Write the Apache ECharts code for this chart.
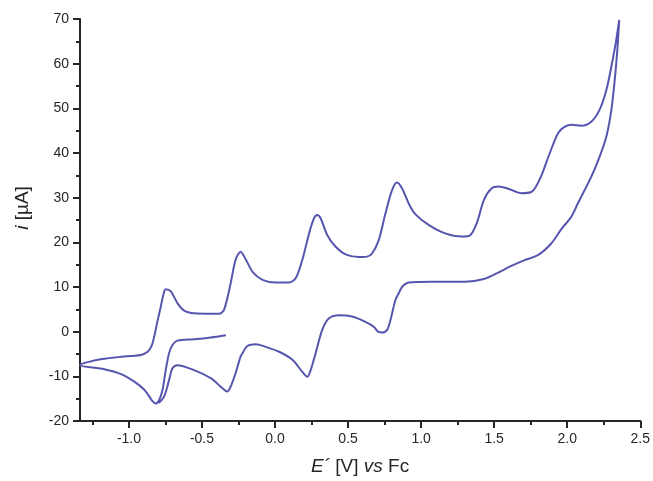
<!DOCTYPE html>
<html><head><meta charset="utf-8">
<script src="https://cdn.jsdelivr.net/npm/echarts@6/dist/echarts.min.js"></script>
<style>html,body{margin:0;padding:0;background:#fff}#c{width:653px;height:481px}</style>
</head><body><div id="c"></div>
<script>
// Axis tick values
const xMajorTicks = [-1.0,-0.5,0.0,0.5,1.0,1.5,2.0,2.5];
const xMinorTicks = [-1.25,-0.75,-0.25,0.25,0.75,1.25,1.75,2.25];
const yTicks = [-20,-10,0,10,20,30,40,50,60,70];
// Initial scan: from rest potential towards negative potentials
const startE = [-0.336,-0.44,-0.554,-0.668,-0.702,-0.725,-0.748,-0.770,-0.793,-0.816,-0.840,-0.861,-0.895,-0.963,-1.054,-1.168,-1.335];
const startI = [-0.8,-1.3,-1.7,-2.0,-3.0,-4.8,-8.6,-13.0,-15.3,-16.1,-15.5,-14.5,-13.0,-11.2,-9.5,-8.4,-7.5];
// Anodic (forward) scan to the switching potential
const anodicE = [-1.213,-1.077,-0.918,-0.872,-0.845,-0.827,-0.805,-0.782,-0.765,-0.748,-0.713,-0.668,-0.622,-0.554,-0.440,-0.384,-0.349,-0.304,-0.270,-0.236,-0.199,-0.154,-0.086,0.005,0.096,0.142,0.187,0.233,0.267,0.289,0.312,0.358,0.415,0.483,0.574,0.630,0.664,0.710,0.756,0.801,0.835,0.869,0.915,0.960,1.051,1.165,1.278,1.336,1.381,1.430,1.483,1.529,1.597,1.688,1.750,1.779,1.824,1.881,1.938,1.984,2.029,2.097,2.165,2.222,2.268,2.302,2.332,2.356];
const anodicI = [-6.3,-5.7,-5.2,-4.5,-3.2,-1.1,2.3,5.6,8.2,9.5,9.0,6.4,4.7,4.1,4.0,4.0,4.9,10.8,16.1,17.9,16.1,13.4,11.6,11.0,11.0,12.0,16.1,22.0,25.4,26.1,25.4,21.6,19.0,17.3,16.7,16.8,17.5,20.5,26.5,31.7,33.4,32.1,28.7,26.3,23.9,22.0,21.3,21.6,24.3,29.5,32.1,32.5,32.0,31.0,31.2,32.1,35.0,40.0,44.5,45.9,46.3,46.1,47.0,49.7,54.1,59.3,64.6,69.8];
// Cathodic (reverse) scan back to negative potentials
const cathodicE = [2.343,2.325,2.302,2.268,2.222,2.165,2.074,2.029,1.961,1.892,1.802,1.700,1.610,1.520,1.430,1.302,1.074,0.915,0.869,0.847,0.824,0.790,0.767,0.733,0.705,0.676,0.619,0.528,0.437,0.369,0.323,0.278,0.244,0.221,0.187,0.119,0.028,-0.063,-0.131,-0.190,-0.222,-0.236,-0.270,-0.304,-0.327,-0.372,-0.440,-0.554,-0.668,-0.702,-0.725,-0.759,-0.795];
const cathodicI = [63.1,56.3,49.6,43.7,39.2,34.7,28.8,25.8,23.0,19.8,17.2,15.9,14.6,13.1,11.8,11.2,11.2,11.0,10.0,8.6,7.1,2.6,0.4,-0.2,0.0,1.1,2.2,3.4,3.7,3.0,0.4,-4.8,-8.6,-10.1,-9.0,-6.3,-4.5,-3.4,-2.8,-3.2,-4.8,-5.6,-9.3,-12.3,-13.4,-12.3,-10.4,-8.6,-7.5,-8.2,-10.8,-14.5,-16.0];

const E = startE.concat(anodicE, cathodicE);
const I = startI.concat(anodicI, cathodicI);
const data = E.map((e, k) => [e, I[k]]);

const FONT = 'Liberation Sans, Arial, sans-serif';
const AX = '#262626';
const chart = echarts.init(document.getElementById('c'), null, {renderer: 'canvas'});
chart.setOption({
  animation: false,
  backgroundColor: '#fff',
  grid: {left: 80, right: 11, top: 19, bottom: 60},
  xAxis: [{
    type: 'value', min: -1.335, max: 2.5,
    axisLine: {show: true, onZero: false, lineStyle: {color: AX, width: 2}},
    axisTick: {show: true, inside: false, length: 7, customValues: xMajorTicks, lineStyle: {color: AX, width: 2}},
    axisLabel: {margin: 11, fontSize: 14, color: AX, fontFamily: FONT, customValues: xMajorTicks,
      formatter: v => v.toFixed(1)},
    splitLine: {show: false},
    name: '{it|E´} [V] {it|vs} Fc', nameLocation: 'middle', nameGap: 36,
    nameTextStyle: {fontSize: 19, color: AX, fontFamily: FONT,
      rich: {it: {fontStyle: 'italic', fontSize: 19, color: AX, fontFamily: FONT}}}
  }, {
    type: 'value', min: -1.335, max: 2.5, position: 'bottom',
    axisLine: {show: false, onZero: false},
    axisTick: {show: true, inside: false, length: 4, customValues: xMinorTicks, lineStyle: {color: AX, width: 2}},
    axisLabel: {show: false}, splitLine: {show: false}
  }],
  yAxis: {
    type: 'value', min: yTicks[0], max: yTicks[yTicks.length - 1], interval: 10,
    axisLine: {show: true, onZero: false, lineStyle: {color: AX, width: 2}},
    axisTick: {show: true, inside: false, length: 7, lineStyle: {color: AX, width: 2}},
    minorTick: {show: true, splitNumber: 2, length: 4, lineStyle: {color: AX, width: 2}},
    axisLabel: {margin: 11, fontSize: 14, color: AX, fontFamily: FONT},
    splitLine: {show: false},
    name: '{it|i} [µA]', nameLocation: 'middle', nameGap: 48, nameRotate: 90,
    nameTextStyle: {fontSize: 19, color: AX, fontFamily: FONT, padding: [0, 0, 0, 24],
      rich: {it: {fontStyle: 'italic', fontSize: 19, color: AX, fontFamily: FONT}}}
  },
  series: [{
    type: 'line', data: data, xAxisIndex: 0, symbol: 'none', smooth: 0.3,
    lineStyle: {color: '#5656ae', width: 2}
  }]
});
</script></body></html>
